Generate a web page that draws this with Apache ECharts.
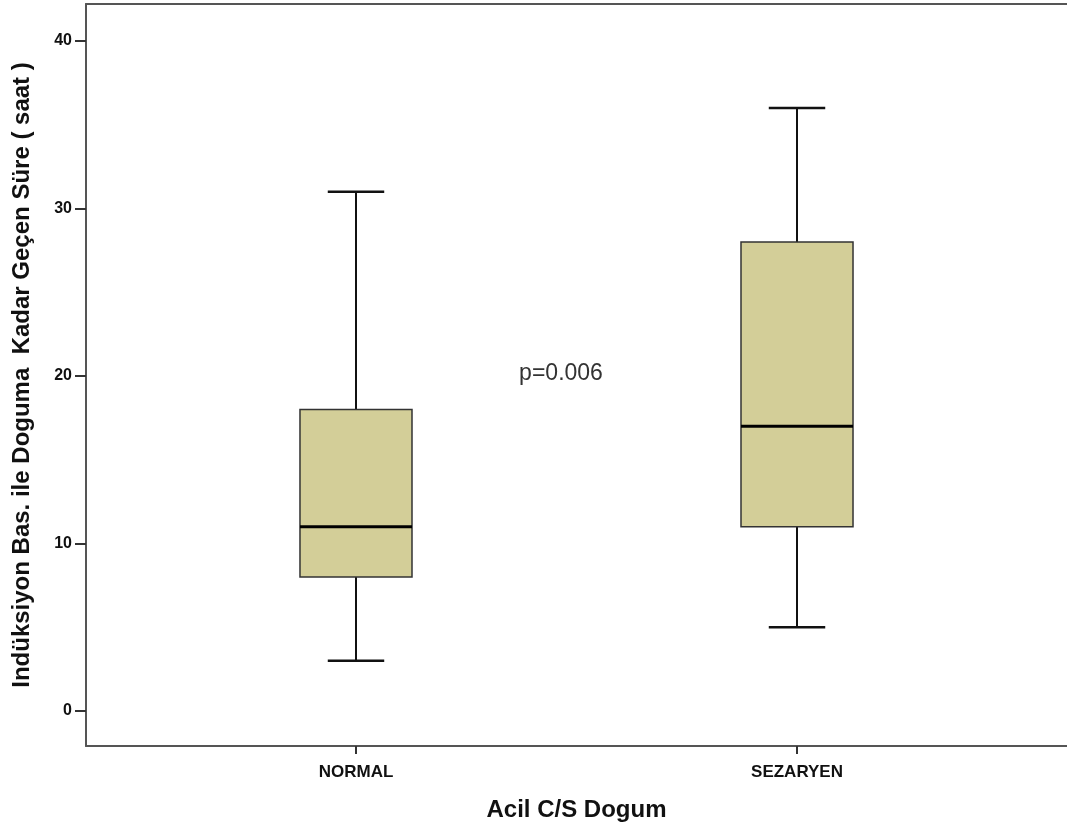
<!DOCTYPE html>
<html><head><meta charset="utf-8">
<script src="https://cdn.jsdelivr.net/npm/echarts@6/dist/echarts.min.js"></script>
<style>html,body{margin:0;padding:0;background:#fff}#c{width:1067px;height:832px}</style>
</head><body><div id="c"></div>
<script>
const categories = ['NORMAL', 'SEZARYEN'];
const whiskerLow = [3, 5];
const q1 = [8, 11];
const median = [11, 17];
const q3 = [18, 28];
const whiskerHigh = [31, 36];
const yTicks = [0, 10, 20, 30, 40];
const pText = 'p=0.006';

const data = categories.map((c, i) => [i, whiskerLow[i], q1[i], median[i], q3[i], whiskerHigh[i]]);

function renderItem(params, api) {
  const x = api.value(0);
  const lo = api.coord([x, api.value(1)]);
  const b1 = api.coord([x, api.value(2)]);
  const md = api.coord([x, api.value(3)]);
  const b3 = api.coord([x, api.value(4)]);
  const hi = api.coord([x, api.value(5)]);
  const unit = api.size([1, 0])[0];
  const halfBox = unit * 0.127;
  const halfCap = unit * 0.064;
  const cx = lo[0];
  return {
    type: 'group', children: [
      {type: 'line', shape: {x1: cx, y1: hi[1], x2: cx, y2: b3[1]}, style: {stroke: '#111', lineWidth: 2}},
      {type: 'line', shape: {x1: cx, y1: b1[1], x2: cx, y2: lo[1]}, style: {stroke: '#111', lineWidth: 2}},
      {type: 'line', shape: {x1: cx - halfCap, y1: hi[1], x2: cx + halfCap, y2: hi[1]}, style: {stroke: '#111', lineWidth: 2.5}},
      {type: 'line', shape: {x1: cx - halfCap, y1: lo[1], x2: cx + halfCap, y2: lo[1]}, style: {stroke: '#111', lineWidth: 2.5}},
      {type: 'rect', shape: {x: cx - halfBox, y: b3[1], width: 2 * halfBox, height: b1[1] - b3[1]}, style: {fill: '#d3ce98', stroke: '#333', lineWidth: 1.5}},
      {type: 'line', shape: {x1: cx - halfBox, y1: md[1], x2: cx + halfBox, y2: md[1]}, style: {stroke: '#000', lineWidth: 3}}
    ]
  };
}

const chart = echarts.init(document.getElementById('c'), null, {renderer: 'canvas'});
const frame = {color: '#555', width: 2};
const ff = 'Liberation Sans, Arial, sans-serif';
chart.setOption({
  animation: false,
  backgroundColor: '#fff',
  grid: {left: 86, right: 0, top: 4, bottom: 86},
  xAxis: [{
    type: 'value', min: -0.6122, max: 1.6122, position: 'bottom',
    axisLine: {show: true, onZero: false, lineStyle: frame},
    axisTick: {show: true, customValues: [0, 1], length: 8, lineStyle: {color: '#333', width: 2}},
    axisLabel: {customValues: [0, 1], formatter: v => categories[Math.round(v)] || '', fontFamily: ff, fontWeight: 'bold', fontSize: 17, color: '#111', margin: 18},
    splitLine: {show: false},
    name: 'Acil C/S Dogum', nameLocation: 'middle', nameGap: 52,
    nameTextStyle: {fontFamily: ff, fontWeight: 'bold', fontSize: 24, color: '#111'}
  }, {
    type: 'value', min: -0.6122, max: 1.6122, position: 'top',
    axisLine: {show: true, onZero: false, lineStyle: frame},
    axisTick: {show: false}, axisLabel: {show: false}, splitLine: {show: false}
  }],
  yAxis: {
    type: 'value', min: -2.09, max: 42.21,
    axisLine: {show: true, onZero: false, lineStyle: frame},
    axisTick: {show: true, customValues: yTicks, length: 11, lineStyle: {color: '#333', width: 2}},
    axisLabel: {customValues: yTicks, fontFamily: ff, fontWeight: 'bold', fontSize: 16, color: '#111', margin: 14},
    splitLine: {show: false},
    name: 'Indüksiyon Bas. ile Doguma  Kadar Geçen Süre ( saat )', nameLocation: 'middle', nameGap: 52,
    nameTextStyle: {fontFamily: ff, fontWeight: 'bold', fontSize: 24, color: '#111'}
  },
  graphic: [{
    type: 'text', x: 561, y: 374,
    style: {text: pText, fontFamily: ff, fontSize: 23, fill: '#333', align: 'center', verticalAlign: 'middle'}
  }],
  series: [{
    type: 'custom', renderItem: renderItem, data: data,
    encode: {x: 0, y: [1, 2, 3, 4, 5]}
  }]
});
</script>
</body></html>
